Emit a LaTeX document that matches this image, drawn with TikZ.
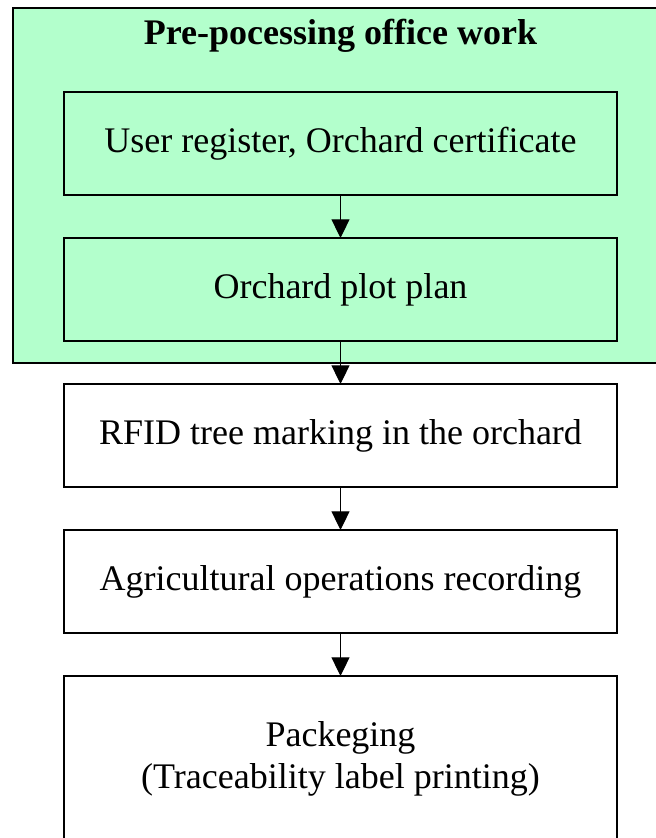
\documentclass[tikz,border=0pt]{standalone}
\usepackage{fontspec}
\setmainfont{Liberation Serif}
\usetikzlibrary{positioning,arrows.meta}
\definecolor{officegreen}{RGB}{179,255,204}

\begin{document}
\begin{tikzpicture}[x=0.75pt,y=-0.75pt,
    node distance=32.25pt,
    stepbox/.style={draw, line width=0.8pt, outer sep=0pt,
      minimum width=414.75pt, minimum height=77.25pt,
      font=\fontsize{27}{32}\selectfont},
    flow/.style={-{Triangle[width=13.5pt,length=14pt]}, line width=0.8pt}]
  \useasboundingbox (0,0) rectangle (656,838);

  % office work block
  \draw[fill=officegreen, line width=0.8pt] (13,8) rectangle (720,363);
  \node[font=\bfseries\fontsize{27}{32}\selectfont] (title) at (340.5,36) {Pre-pocessing office work};

  \node[stepbox] (register) at (340.5,143.5) {User register, Orchard certificate};
  \node[stepbox, below=of register] (plan) {Orchard plot plan};

  % field work
  \node[stepbox, fill=white, below=of plan] (rfid) {RFID tree marking in the orchard};
  \node[stepbox, below=of rfid] (agri) {Agricultural operations recording};
  \node[stepbox, below=of agri, align=center, minimum height=160pt] (pack) {Packeging\\(Traceability label printing)\\\strut};

  \draw[flow] (register) -- (plan);
  \draw[flow] (plan) -- (rfid);
  \draw[flow] (rfid) -- (agri);
  \draw[flow] (agri) -- (pack);
\end{tikzpicture}
\end{document}
